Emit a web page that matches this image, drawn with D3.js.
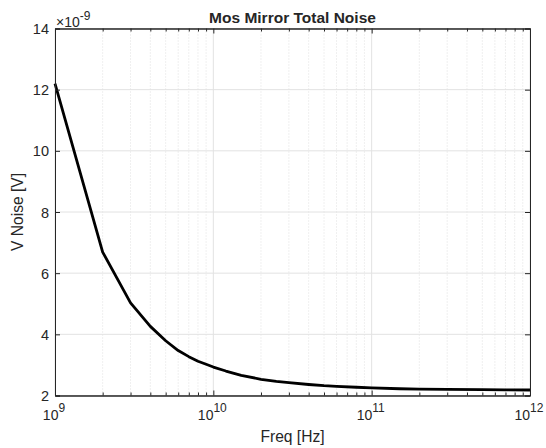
<!DOCTYPE html>
<html><head><meta charset="utf-8">
<script src="https://cdn.jsdelivr.net/npm/d3@7"></script>
<style>body{margin:0;background:#fff}svg{display:block}text{font-family:"Liberation Sans",Arial,sans-serif;fill:#262626}</style>
</head><body>
<svg id="c" width="546" height="448"></svg>
<script>
// Data (frequency in GHz, noise in nV)
const freqGHz = [1,2,3,4,5,6,7,8,9,10,12,15,20,25,30,40,50,60,80,100,150,200,300,500,700,1000];
const noiseNV = [12.2,6.69,5.03,4.26,3.79,3.47,3.27,3.12,3.02,2.93,2.80,2.66,2.53,2.46,2.42,2.36,2.32,2.30,2.27,2.25,2.22,2.21,2.20,2.19,2.185,2.18];
const yTicks = [2,4,6,8,10,12,14];
const xDecades = [9,10,11,12];
const title = "Mos Mirror Total Noise";
const xLabel = "Freq [Hz]";
const yLabel = "V Noise [V]";

const svg = d3.select("#c");
const m = {l:55, r:530, t:28.5, b:395.5};
const x = d3.scaleLog().domain([1e9,1e12]).range([m.l,m.r]);
const y = d3.scaleLinear().domain([2,14]).range([m.b,m.t]);

// minor grid
const minors = [];
for (let d=9; d<12; d++) for (let k=2;k<=9;k++) minors.push(k*Math.pow(10,d));
svg.append("g").selectAll("line").data(minors).join("line")
  .attr("x1",d=>x(d)).attr("x2",d=>x(d)).attr("y1",m.t).attr("y2",m.b)
  .attr("stroke","#d8d8d8").attr("stroke-width",0.8).attr("stroke-dasharray","1,2");
// major grid
const majors = xDecades.map(e=>Math.pow(10,e));
svg.append("g").selectAll("line").data(majors).join("line")
  .attr("x1",d=>x(d)).attr("x2",d=>x(d)).attr("y1",m.t).attr("y2",m.b)
  .attr("stroke","#e2e2e2").attr("stroke-width",1);
svg.append("g").selectAll("line").data(yTicks).join("line")
  .attr("x1",m.l).attr("x2",m.r).attr("y1",d=>y(d)).attr("y2",d=>y(d))
  .attr("stroke","#e2e2e2").attr("stroke-width",1);

// curve
const data = freqGHz.map((f,i)=>[f*1e9, noiseNV[i]]);
svg.append("path").datum(data)
  .attr("d", d3.line().x(d=>x(d[0])).y(d=>y(d[1])))
  .attr("fill","none").attr("stroke","#000").attr("stroke-width",2.8).attr("stroke-linejoin","round");

// axes (ticks inside)
const axCol = "#262626";
const gB = svg.append("g").attr("transform",`translate(0,${m.b})`)
  .call(d3.axisBottom(x).tickValues(majors).tickSize(-5).tickFormat(""));
const gT = svg.append("g").attr("transform",`translate(0,${m.t})`)
  .call(d3.axisTop(x).tickValues(majors).tickSize(-5).tickFormat(""));
const gL = svg.append("g").attr("transform",`translate(${m.l},0)`)
  .call(d3.axisLeft(y).tickValues(yTicks).tickSize(-5).tickFormat(""));
const gR = svg.append("g").attr("transform",`translate(${m.r},0)`)
  .call(d3.axisRight(y).tickValues(yTicks).tickSize(-5).tickFormat(""));
const gBm = svg.append("g").attr("transform",`translate(0,${m.b})`)
  .call(d3.axisBottom(x).tickValues(minors).tickSize(-3).tickFormat(""));
const gTm = svg.append("g").attr("transform",`translate(0,${m.t})`)
  .call(d3.axisTop(x).tickValues(minors).tickSize(-3).tickFormat(""));
[gB,gT,gL,gR,gBm,gTm].forEach(g=>{
  g.select(".domain").attr("stroke",axCol).attr("stroke-width",1);
  g.selectAll(".tick line").attr("stroke",axCol).attr("stroke-width",1);
});

// tick labels
svg.append("g").selectAll("text").data(yTicks).join("text")
  .attr("x",m.l-6).attr("y",d=>y(d)+5.5).attr("text-anchor","end")
  .attr("font-size",14.5).text(d=>d);
const xl = svg.append("g").selectAll("text").data(xDecades).join("text")
  .attr("x",d=>x(Math.pow(10,d))-1).attr("y",m.b+24).attr("text-anchor","middle")
  .attr("font-size",14);
xl.append("tspan").text("10");
xl.append("tspan").attr("dy",-8).attr("font-size",12).text(d=>d);

// exponent
const ex = svg.append("text").attr("x",m.l+1).attr("y",26.5).attr("font-size",14);
ex.append("tspan").text("\u00d710");
ex.append("tspan").attr("dy",-7).attr("font-size",12).text("-9");

// titles
svg.append("text").attr("x",(m.l+m.r)/2).attr("y",22.5).attr("text-anchor","middle")
  .attr("font-size",15.5).attr("font-weight","bold").attr("fill","#000").text(title);
svg.append("text").attr("x",(m.l+m.r)/2).attr("y",442).attr("text-anchor","middle")
  .attr("font-size",15.6).text(xLabel);
svg.append("text").attr("transform",`translate(23,${(m.t+m.b)/2}) rotate(-90)`)
  .attr("text-anchor","middle").attr("font-size",15.6).text(yLabel);
</script>
</body></html>
